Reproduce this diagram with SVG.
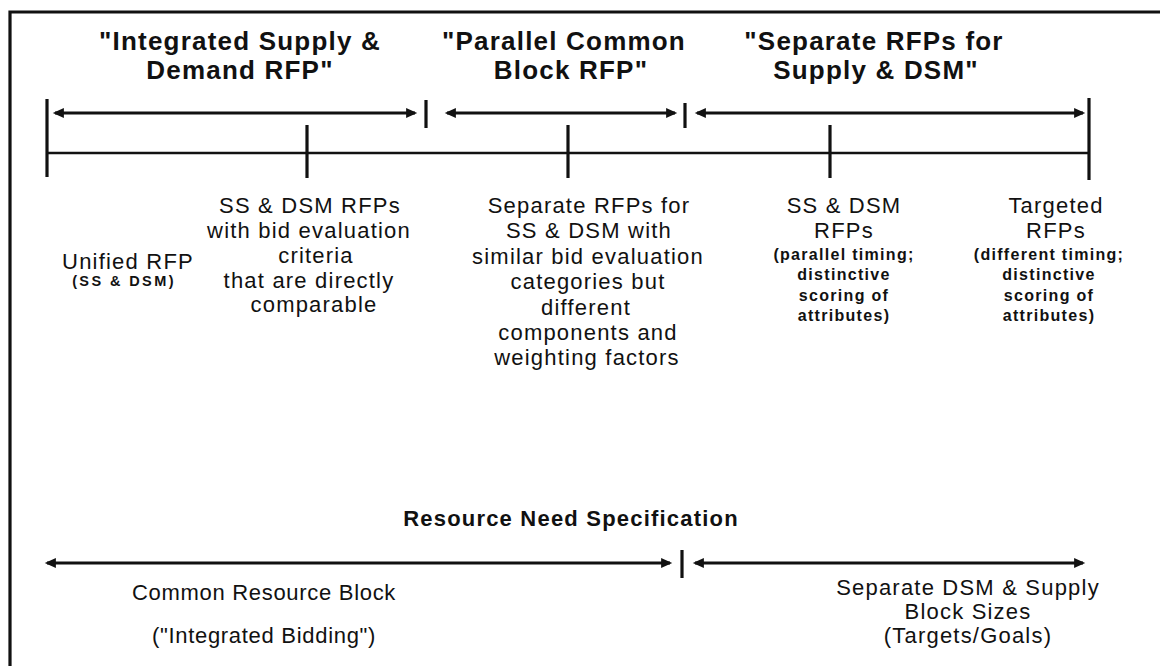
<svg xmlns="http://www.w3.org/2000/svg" width="1160" height="666" viewBox="0 0 1160 666">
<style>
text{font-family:"Liberation Sans",Arial,Helvetica,sans-serif;fill:#111;text-anchor:middle}
.t{font-size:26px;font-weight:bold;letter-spacing:1.2px}
.b{font-size:22px;letter-spacing:1.2px}
.c{font-size:22px;letter-spacing:0.7px}
.h{font-size:22px;font-weight:bold;letter-spacing:1.2px}
.s{font-size:16px;font-weight:bold;letter-spacing:1.3px}
.xs{font-size:14.5px;font-weight:bold;letter-spacing:2.4px}
.ln{stroke:#111;stroke-width:2.6;fill:none}
.tk{stroke:#111;stroke-width:3.2;fill:none}
.ar{stroke:#111;stroke-width:2.8;fill:none;marker-start:url(#ah);marker-end:url(#ah)}
.fr{stroke:#111;stroke-width:3.2;fill:none}
</style>
<defs>
<marker id="ah" markerUnits="userSpaceOnUse" markerWidth="12" markerHeight="10" refX="8" refY="4.5" orient="auto-start-reverse" viewBox="0 0 10 9">
<path d="M0,0 L10,4.5 L0,9 Z" fill="#111"/>
</marker>
</defs>
<rect width="1160" height="666" fill="#fff"/>
<g id="frame">
<path class="fr" d="M10,666 L10,12 L1160,12"/>
</g>
<g id="connectors">
<line class="ar" x1="55" y1="113" x2="415" y2="113"/>
<line class="ar" x1="447" y1="113" x2="675" y2="113"/>
<line class="ar" x1="697" y1="113" x2="1083" y2="113"/>
<line class="tk" x1="47" y1="99" x2="47" y2="177"/>
<line class="tk" x1="426" y1="100" x2="426" y2="128"/>
<line class="tk" x1="685" y1="103" x2="685" y2="128"/>
<line class="tk" x1="1089" y1="98" x2="1089" y2="180"/>
<line class="ln" x1="47" y1="153" x2="1089" y2="153"/>
<line class="tk" x1="307" y1="125" x2="307" y2="178"/>
<line class="tk" x1="568" y1="125" x2="568" y2="178"/>
<line class="tk" x1="830" y1="125" x2="830" y2="178"/>
<line class="ar" x1="47" y1="563" x2="670" y2="563"/>
<line class="tk" x1="682" y1="550" x2="682" y2="578"/>
<line class="ar" x1="695" y1="563" x2="1083" y2="563"/>
</g>
<g id="title-integrated">
<text class="t" x="240" y="50">"Integrated Supply &amp;</text>
<text class="t" x="240" y="79">Demand RFP"</text>
</g>
<g id="title-parallel">
<text class="t" x="564" y="50">"Parallel Common</text>
<text class="t" x="571" y="79">Block RFP"</text>
</g>
<g id="title-separate">
<text class="t" x="874" y="50">"Separate RFPs for</text>
<text class="t" x="876" y="79">Supply &amp; DSM"</text>
</g>
<g id="unified">
<text class="b" x="128" y="269">Unified RFP</text>
<text class="xs" x="124" y="286">(SS &amp; DSM)</text>
</g>
<g id="ss-dsm-comparable">
<text class="b" x="310" y="213">SS &amp; DSM RFPs</text>
<text class="b" x="309" y="238">with bid evaluation</text>
<text class="b" x="316" y="263">criteria</text>
<text class="b" x="309" y="288">that are directly</text>
<text class="b" x="314" y="312">comparable</text>
</g>
<g id="separate-similar">
<text class="b" x="589" y="213">Separate RFPs for</text>
<text class="b" x="589" y="238">SS &amp; DSM with</text>
<text class="b" x="588" y="264">similar bid evaluation</text>
<text class="b" x="588" y="289">categories but</text>
<text class="b" x="586" y="315">different</text>
<text class="b" x="588" y="340">components and</text>
<text class="b" x="587" y="365">weighting factors</text>
</g>
<g id="ss-dsm-parallel">
<text class="b" x="844" y="213">SS &amp; DSM</text>
<text class="b" x="844" y="238">RFPs</text>
<text class="s" x="844" y="260">(parallel timing;</text>
<text class="s" x="844" y="280">distinctive</text>
<text class="s" x="844" y="301">scoring of</text>
<text class="s" x="844" y="321">attributes)</text>
</g>
<g id="targeted">
<text class="b" x="1056" y="213">Targeted</text>
<text class="b" x="1056" y="238">RFPs</text>
<text class="s" x="1049" y="260">(different timing;</text>
<text class="s" x="1049" y="280">distinctive</text>
<text class="s" x="1049" y="301">scoring of</text>
<text class="s" x="1049" y="321">attributes)</text>
</g>
<g id="resource-need">
<text class="h" x="571" y="526">Resource Need Specification</text>
</g>
<g id="common-block">
<text class="c" x="264" y="600">Common Resource Block</text>
<text class="c" x="264" y="643">("Integrated Bidding")</text>
</g>
<g id="separate-block">
<text class="b" x="968" y="595">Separate DSM &amp; Supply</text>
<text class="b" x="968" y="619">Block Sizes</text>
<text class="b" x="968" y="643">(Targets/Goals)</text>
</g>
</svg>
